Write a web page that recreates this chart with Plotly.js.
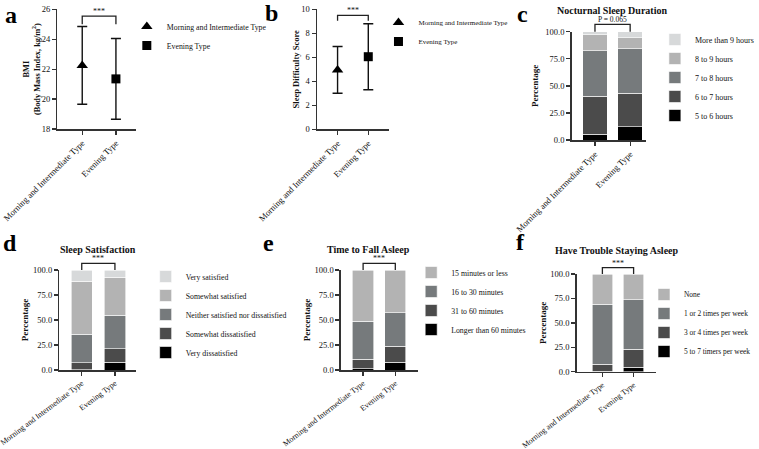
<!DOCTYPE html>
<html><head><meta charset="utf-8">
<script src="https://cdn.plot.ly/plotly-3.0.1.min.js"></script>
<style>html,body{margin:0;padding:0;background:#fff}#chart{width:759px;height:449px}</style>
</head><body><div id="chart"></div>
<script>
// ---------------- data ----------------
const groups = ['Morning and Intermediate Type', 'Evening Type'];

const bmiMean = [22.25, 21.35];
const bmiSD = [2.6, 2.7];

const diffMean = [4.95, 6.05];
const diffSD = [1.95, 2.75];

const durNames = ['5 to 6 hours', '6 to 7 hours', '7 to 8 hours', '8 to 9 hours', 'More than 9 hours'];
const durMorning = [5.5, 35.1, 41.9, 14.7, 2.8];
const durEvening = [12.3, 30.8, 41.2, 9.9, 5.8];

const satNames = ['Very dissatisfied', 'Somewhat dissatisfied', 'Neither satisfied nor dissatisfied', 'Somewhat satisfied', 'Very satisfied'];
const satMorning = [0.5, 6.8, 28.7, 52.7, 11.3];
const satEvening = [7.7, 13.6, 33.4, 38.0, 7.3];

const fallNames = ['Longer than 60 minutes', '31 to 60 minutes', '16 to 30 minutes', '15 minutes or less'];
const fallMorning = [1.3, 9.4, 38.3, 51.0];
const fallEvening = [8.0, 16.0, 33.3, 42.7];

const wakeNames = ['5 to 7 timers per week', '3 or 4 times per week', '1 or 2 times per week', 'None'];
const wakeMorning = [0.3, 7.5, 61.1, 31.1];
const wakeEvening = [4.8, 18.4, 50.2, 26.6];

const panelTitles = ['', '', 'Nocturnal Sleep Duration', 'Sleep Satisfaction', 'Time to Fall Asleep', 'Have Trouble Staying Asleep'];
const panelLetters = ['a', 'b', 'c', 'd', 'e', 'f'];
const sigLabels = ['***', '***', 'P = 0.065', '***', '***', '***'];

// ---------------- styling / layout ----------------
const W = 759, H = 449;
const FONT = "'Liberation Serif', 'Times New Roman', Times, serif";
const grays5 = ['#000000', '#4b4b4b', '#767a7c', '#b3b3b3', '#d7d9da'];
const grays4 = ['#000000', '#4b4b4b', '#767a7c', '#b3b3b3'];

const P = [
  {xd: [58, 137], yd: [9.3, 129], xr: [-0.735, 1.588], yr: [18, 26], dtick: 2, fmt: '', ytitle: '<b>BMI</b><br><b>(Body Mass Index, kg/m<sup>2</sup>)</b>', tsize: 8.3, standoff: 0, leg: [128, 12], legSize: 7.8, letter: [11, 15], title: null, br: 'data', brTop: 25.55, brBot: 25.0, tangle: -45, tfont: 8.7},
  {xd: [320, 393], yd: [9.3, 129.3], xr: [-0.668, 1.687], yr: [0, 10], dtick: 2, fmt: '', ytitle: '<b>Sleep Difficulty Score</b>', tsize: 8.5, standoff: 0, leg: [382, 8], legSize: 7, letter: [274, 13], title: null, br: 'data', brTop: 9.5, brBot: 9.05, tangle: -45, tfont: 8.7},
  {xd: [577, 652], yd: [31.7, 140], xr: [-0.662, 1.45], yr: [0, 100], dtick: 25, fmt: '.1f', ytitle: '<b>Percentage</b>', tsize: 9, standoff: 5, leg: [661, 25], legSize: 8, letter: [527, 14], title: [618, 10], br: 'px', off: 7.4, tangle: -45, tfont: 8.7},
  {xd: [60, 137], yd: [270, 370], xr: [-0.672, 1.627], yr: [0, 100], dtick: 25, fmt: '.1f', ytitle: '<b>Percentage</b>', tsize: 9, standoff: 3, leg: [147, 262], legSize: 7.8, letter: [10, 243], title: [99, 249], br: 'px', off: 6.7, tangle: -37, tfont: 8},
  {xd: [344, 422], yd: [270, 370], xr: [-0.692, 1.708], yr: [0, 100], dtick: 25, fmt: '.1f', ytitle: '<b>Percentage</b>', tsize: 9, standoff: 2, leg: [415, 258], legSize: 7.8, letter: [271, 243], title: [372, 249], br: 'px', off: 6.7, tangle: -38, tfont: 8},
  {xd: [582, 662], yd: [274, 371.7], xr: [-0.825, 1.714], yr: [0, 100], dtick: 25, fmt: '.1f', ytitle: '<b>Percentage</b>', tsize: 9, standoff: 2, leg: [650, 280], legSize: 7.4, letter: [525, 242], title: [623, 250], br: 'px', off: 6.3, tangle: -38, tfont: 8}
];
const barWidths = [null, null, 0.70, 0.64, 0.66, 0.65];

function catX(p, i) { const f = (i - p.xr[0]) / (p.xr[1] - p.xr[0]); return (p.xd[0] + f * (p.xd[1] - p.xd[0])) / W; }
function valY(p, v) { const f = (v - p.yr[0]) / (p.yr[1] - p.yr[0]); return 1 - (p.yd[1] - f * (p.yd[1] - p.yd[0])) / H; }

const traces = [];
const axSuffix = i => (i === 0 ? '' : String(i + 1));
const legName = i => (i === 0 ? 'legend' : 'legend' + (i + 1));

// panels a and b: mean +/- SD
const pointSets = [[bmiMean, bmiSD], [diffMean, diffSD]];
const symbols = ['triangle-up', 'square'];
const symSizes = [10, 9];
pointSets.forEach(([m, sd], pi) => {
  groups.forEach((g, gi) => {
    traces.push({
      type: 'scatter', mode: 'markers', name: g,
      x: [g], y: [m[gi]],
      error_y: {type: 'data', array: [sd[gi]], color: '#111', thickness: 1.4, width: 5},
      marker: {symbol: symbols[gi], size: symSizes[gi], color: '#000'},
      xaxis: 'x' + axSuffix(pi), yaxis: 'y' + axSuffix(pi), legend: legName(pi),
      cliponaxis: false
    });
  });
});

// panels c-f: stacked bars
const barSets = [
  [durNames, durMorning, durEvening, grays5],
  [satNames, satMorning, satEvening, grays5],
  [fallNames, fallMorning, fallEvening, grays4],
  [wakeNames, wakeMorning, wakeEvening, grays4]
];
barSets.forEach(([names, mo, ev, cols], k) => {
  const pi = k + 2;
  names.forEach((n, j) => {
    traces.push({
      type: 'bar', name: n, x: groups, y: [mo[j], ev[j]],
      width: barWidths[pi],
      marker: {color: cols[j], line: {color: '#ffffff', width: 0.6}},
      xaxis: 'x' + axSuffix(pi), yaxis: 'y' + axSuffix(pi), legend: legName(pi)
    });
  });
});

const layout = {
  width: W, height: H, margin: {l: 0, r: 0, t: 0, b: 0},
  paper_bgcolor: '#fff', plot_bgcolor: 'rgba(0,0,0,0)',
  barmode: 'stack', showlegend: true,
  font: {family: FONT, color: '#111', size: 9},
  shapes: [], annotations: []
};

P.forEach((p, i) => {
  const s = axSuffix(i);
  layout['xaxis' + s] = {
    domain: [p.xd[0] / W, p.xd[1] / W], range: p.xr, anchor: 'y' + s,
    type: 'category', showgrid: false, zeroline: false,
    showline: true, linecolor: '#333', linewidth: 1.5,
    ticks: 'outside', ticklen: 4, tickwidth: 1.3, tickcolor: '#333',
    tickangle: p.tangle, tickfont: {family: FONT, size: p.tfont, color: '#111'}
  };
  layout['yaxis' + s] = {
    domain: [1 - p.yd[1] / H, 1 - p.yd[0] / H], range: p.yr, anchor: 'x' + s,
    showgrid: false, zeroline: false, dtick: p.dtick, tick0: 0, tickformat: p.fmt,
    showline: true, linecolor: '#333', linewidth: 1.5,
    ticks: 'outside', ticklen: 4, tickwidth: 1.3, tickcolor: '#333',
    tickfont: {family: FONT, size: 8.5, color: '#111'},
    title: {text: p.ytitle, font: {family: FONT, size: p.tsize, color: '#111'}, standoff: p.standoff}
  };
  layout[legName(i)] = {
    x: p.leg[0] / W, y: 1 - p.leg[1] / H, xanchor: 'left', yanchor: 'top',
    bgcolor: 'rgba(0,0,0,0)', font: {family: FONT, size: p.legSize, color: '#111'},
    traceorder: i < 2 ? 'normal' : 'reversed'
  };
  layout.annotations.push({
    text: '<b>' + panelLetters[i] + '</b>', xref: 'paper', yref: 'paper',
    x: p.letter[0] / W, y: 1 - p.letter[1] / H, xanchor: 'center', yanchor: 'middle',
    showarrow: false, font: {family: FONT, size: 24, color: '#000'}
  });
  if (p.title) {
    layout.annotations.push({
      text: '<b>' + panelTitles[i] + '</b>', xref: 'paper', yref: 'paper',
      x: p.title[0] / W, y: 1 - p.title[1] / H, xanchor: 'center', yanchor: 'middle',
      showarrow: false, font: {family: FONT, size: 10, color: '#111'}
    });
  }
  const x0 = catX(p, 0), x1 = catX(p, 1);
  let yt, yb;
  if (p.br === 'data') { yt = valY(p, p.brTop); yb = valY(p, p.brBot); }
  else { yb = valY(p, 100); yt = yb + p.off / H; }
  layout.shapes.push({
    type: 'path', xref: 'paper', yref: 'paper',
    path: `M${x0},${yb} L${x0},${yt} L${x1},${yt} L${x1},${yb}`,
    line: {color: '#222', width: 1.3}
  });
  layout.annotations.push({
    text: sigLabels[i], xref: 'paper', yref: 'paper',
    x: (x0 + x1) / 2, y: yt, xanchor: 'center', yanchor: 'bottom', yshift: -2,
    showarrow: false, font: {family: FONT, size: i === 2 ? 7.5 : 8, color: '#111'}
  });
});

Plotly.newPlot('chart', traces, layout, {staticPlot: true, displayModeBar: false});
</script>
</body></html>
